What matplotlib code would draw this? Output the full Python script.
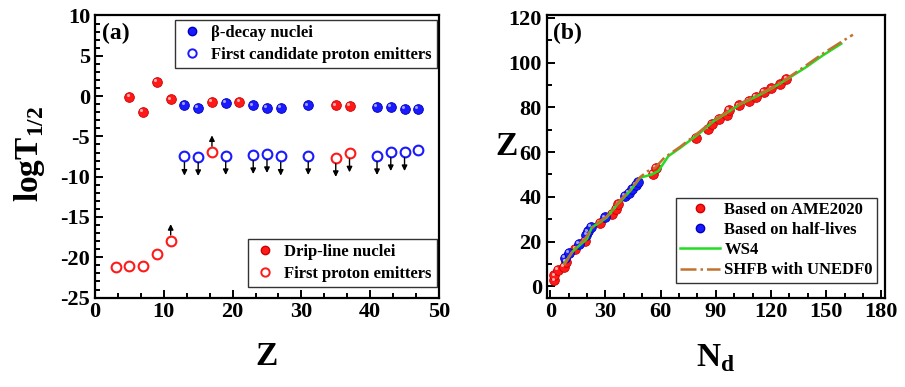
import matplotlib
matplotlib.use("Agg")
import matplotlib.pyplot as plt
from matplotlib.lines import Line2D
from matplotlib.ticker import MultipleLocator, AutoMinorLocator
from matplotlib.transforms import offset_copy

plt.rcParams['font.family'] = ['Liberation Serif', 'DejaVu Serif']
plt.rcParams['font.weight'] = 'bold'
plt.rcParams['axes.labelweight'] = 'bold'
plt.rcParams['axes.unicode_minus'] = False
plt.rcParams['mathtext.fontset'] = 'custom'
plt.rcParams['mathtext.rm'] = 'Liberation Serif:bold'
plt.rcParams['mathtext.bf'] = 'Liberation Serif:bold'

RED = '#ff1a1a'
BLUE = '#1a1aff'
GREEN = '#22dd22'
BROWN = '#c0722f'

# ---- panel (a) data ----
z_drip = [5, 7, 9, 11, 17, 21, 35, 37]
logt_drip = [-0.07, -1.97, 1.72, -0.41, -0.74, -0.74, -1.15, -1.23]

z_beta = [13, 15, 19, 23, 25, 27, 31, 41, 43, 45, 47]
logt_beta = [-1.10, -1.43, -0.82, -1.15, -1.47, -1.51, -1.15, -1.35, -1.31, -1.55, -1.55]

z_cand = [13, 15, 19, 23, 25, 27, 31, 41, 43, 45, 47]
logt_cand = [-7.47, -7.51, -7.39, -7.27, -7.14, -7.47, -7.39, -7.39, -6.90, -6.90, -6.65]
cand_down = [True, True, True, True, True, True, True, True, True, True, False]

z_first = [3, 5, 7, 9, 11, 17, 35, 37]
logt_first = [-21.26, -21.06, -21.06, -19.58, -17.98, -6.97, -7.63, -7.06]
first_arrow = [None, None, None, None, 'up', 'up', 'down', 'down']

# ---- panel (b) data ----
nd_ame = [2.2, 2.2, 4.0, 7.6, 8.7, 13.6, 19.0, 26.8, 33.5, 35.8, 37.0, 55.7, 57.5,
          79.2, 85.8, 87.7, 91.8, 96.0, 97.2, 102.7, 108.0, 111.7, 116.0, 120.2,
          125.1, 128.4]
z_ame = [2.7, 4.9, 7.2, 8.6, 10.9, 16.8, 20.5, 28.2, 32.3, 34.5, 36.7, 50.3, 53.0,
         66.3, 70.4, 72.5, 74.9, 76.6, 78.9, 80.8, 82.8, 84.8, 86.7, 88.4,
         90.2, 92.6]

nd_hl = [7.8, 10.3, 15.4, 19.6, 20.4, 22.2, 29.8, 40.7, 42.8, 44.6, 46.5, 47.9]
z_hl = [12.8, 14.9, 19.0, 23.0, 24.6, 26.7, 30.8, 40.4, 41.9, 43.4, 45.3, 46.8]

nd_ws4 = [7.6, 12.6, 19.9, 22.6, 26.2, 30.7, 36.2, 43.4, 48.8, 55.2, 58.7, 64.2,
          70.5, 81.3, 88.6, 95.8, 103.0, 112.0, 121.0, 130.0, 139.2, 148.2, 158.2]
z_ws4 = [10.3, 16.0, 21.2, 26.4, 28.2, 30.8, 36.4, 42.6, 48.5, 50.0, 51.5, 58.2,
         61.8, 68.5, 73.7, 77.4, 81.3, 84.8, 88.7, 93.2, 98.0, 103.2, 108.4]

nd_shfb = [7.6, 12.6, 19.0, 22.6, 26.2, 30.7, 36.2, 43.4, 48.8, 53.0, 57.0, 62.0,
           70.5, 81.3, 88.6, 95.8, 103.0, 112.0, 121.0, 130.0, 139.2, 148.2, 158.2, 164.5]
z_shfb = [9.5, 16.5, 21.5, 26.0, 28.8, 31.2, 37.0, 43.0, 48.8, 51.5, 53.0, 57.5,
          62.3, 69.2, 74.2, 77.8, 81.6, 85.3, 89.0, 93.6, 98.8, 104.0, 109.2, 112.4]

fig = plt.figure(figsize=(9.05, 3.87), dpi=100)
ax1 = fig.add_axes([0.105, 0.231, 0.380, 0.729])
ax2 = fig.add_axes([0.604, 0.231, 0.374, 0.729])

ms = 7


def balls(ax, x, y, color, edge, light, **kw):
    # filled marker with a small highlight, to look like the shaded spheres
    ax.plot(x, y, 'o', ms=ms, color=color, mec=edge, mew=0.6, ls='none', **kw)
    tr = offset_copy(ax.transData, fig=ax.figure, x=-1.3, y=1.3, units='points')
    ax.plot(x, y, 'o', ms=2.2, color=light, mew=0, ls='none', transform=tr,
            zorder=kw.get('zorder', 2) + 0.1)


# filled points
balls(ax1, z_drip, logt_drip, RED, '#cc0000', '#ffb0b0')
balls(ax1, z_beta, logt_beta, BLUE, '#0000bb', '#a0a0ff')
# open points
ax1.plot(z_cand, logt_cand, 'o', ms=ms, mfc='white', mec=BLUE, mew=1.5, ls='none')
ax1.plot(z_first, logt_first, 'o', ms=ms, mfc='white', mec=RED, mew=1.5, ls='none')

arrow_kw = dict(arrowstyle='-|>', color='k', lw=1.0, mutation_scale=8, shrinkA=0, shrinkB=0)
for z, v, d in zip(z_cand, logt_cand, cand_down):
    if d:
        ax1.annotate('', xy=(z, v - 2.4), xytext=(z, v - 0.75), arrowprops=arrow_kw)
for z, v, a in zip(z_first, logt_first, first_arrow):
    if a == 'down':
        ax1.annotate('', xy=(z, v - 2.4), xytext=(z, v - 0.75), arrowprops=arrow_kw)
    elif a == 'up':
        ax1.annotate('', xy=(z, v + 2.1), xytext=(z, v + 0.75), arrowprops=arrow_kw)

ax1.set_xlim(0, 50)
ax1.set_ylim(-25, 10)
ax1.xaxis.set_major_locator(MultipleLocator(10))
ax1.xaxis.set_minor_locator(AutoMinorLocator(3))
ax1.yaxis.set_major_locator(MultipleLocator(5))
ax1.yaxis.set_minor_locator(AutoMinorLocator(5))
ax1.set_xlabel('Z', fontsize=24)
ax1.xaxis.set_label_coords(0.5, -0.155)
ax1.set_ylabel(r'logT$_{1/2}$', fontsize=24)
ax1.yaxis.set_label_coords(-0.14, 0.51)
ax1.text(0.02, 0.975, '(a)', transform=ax1.transAxes, fontsize=17, va='top', ha='left')

leg_kw = dict(fontsize=12, frameon=True, fancybox=False, edgecolor='k',
              handlelength=1.5, handletextpad=0.4, borderpad=0.3,
              labelspacing=0.35, borderaxespad=0)
h_beta = [Line2D([], [], marker='o', ls='none', ms=6, color=BLUE, mec='#0000bb'),
          Line2D([], [], marker='o', ls='none', ms=6, mfc='white', mec=BLUE, mew=1.4)]
leg1 = ax1.legend(h_beta, ['β-decay nuclei', 'First candidate proton emitters'],
                  loc='upper right', bbox_to_anchor=(0.994, 0.984), **leg_kw)
leg1.get_frame().set_linewidth(1.0)
ax1.add_artist(leg1)
h_drip = [Line2D([], [], marker='o', ls='none', ms=6, color=RED, mec='#cc0000'),
          Line2D([], [], marker='o', ls='none', ms=6, mfc='white', mec=RED, mew=1.4)]
leg2 = ax1.legend(h_drip, ['Drip-line nuclei', 'First proton emitters'],
                  loc='lower right', bbox_to_anchor=(0.994, 0.039), **leg_kw)
leg2.get_frame().set_linewidth(1.0)

# ---- panel (b) ----
ax2.plot(nd_ws4, z_ws4, '-', color=GREEN, lw=1.8, label='WS4', zorder=4)
ax2.plot(nd_shfb, z_shfb, '-.', color=BROWN, lw=1.8, label='SHFB with UNEDF0', zorder=4)
ax2.plot([], [], 'o', ms=6, color=RED, mec='#cc0000', label='Based on AME2020')
ax2.plot([], [], 'o', ms=6, color=BLUE, mec='#0000bb', label='Based on half-lives')
balls(ax2, nd_ame, z_ame, RED, '#cc0000', '#ffb0b0', zorder=2)
balls(ax2, nd_hl, z_hl, BLUE, '#0000bb', '#a0a0ff', zorder=2)

ax2.set_xlim(-2, 182)
ax2.set_ylim(-5, 121)
ax2.xaxis.set_major_locator(MultipleLocator(30))
ax2.xaxis.set_minor_locator(AutoMinorLocator(3))
ax2.yaxis.set_major_locator(MultipleLocator(20))
ax2.yaxis.set_minor_locator(AutoMinorLocator(2))
ax2.set_xlabel(r'N$_\mathregular{d}$', fontsize=24)
ax2.xaxis.set_label_coords(0.5, -0.16)
ax2.set_ylabel('Z', fontsize=24, rotation=0, va='center', ha='center')
ax2.yaxis.set_label_coords(-0.12, 0.535)
ax2.text(0.02, 0.975, '(b)', transform=ax2.transAxes, fontsize=17, va='top', ha='left')

handles, labels = ax2.get_legend_handles_labels()
order = [2, 3, 0, 1]
leg3 = ax2.legend([handles[i] for i in order], [labels[i] for i in order],
                  loc='lower right', bbox_to_anchor=(0.976, 0.053), fontsize=12,
                  frameon=True, fancybox=False, edgecolor='k', handlelength=2.4,
                  handletextpad=0.25, borderpad=0.25, labelspacing=0.25,
                  borderaxespad=0)
leg3.get_frame().set_linewidth(1.0)

for ax in (ax1, ax2):
    for s in ax.spines.values():
        s.set_linewidth(1.6)
    ax.tick_params(which='both', direction='in', top=False, right=False,
                   labelsize=16, width=1.4)
    ax.tick_params(which='major', length=6)
    ax.tick_params(which='minor', length=3.5)
    plt.setp(ax.get_xticklabels() + ax.get_yticklabels(), fontweight='bold')

fig.savefig('out.png', dpi=100)
